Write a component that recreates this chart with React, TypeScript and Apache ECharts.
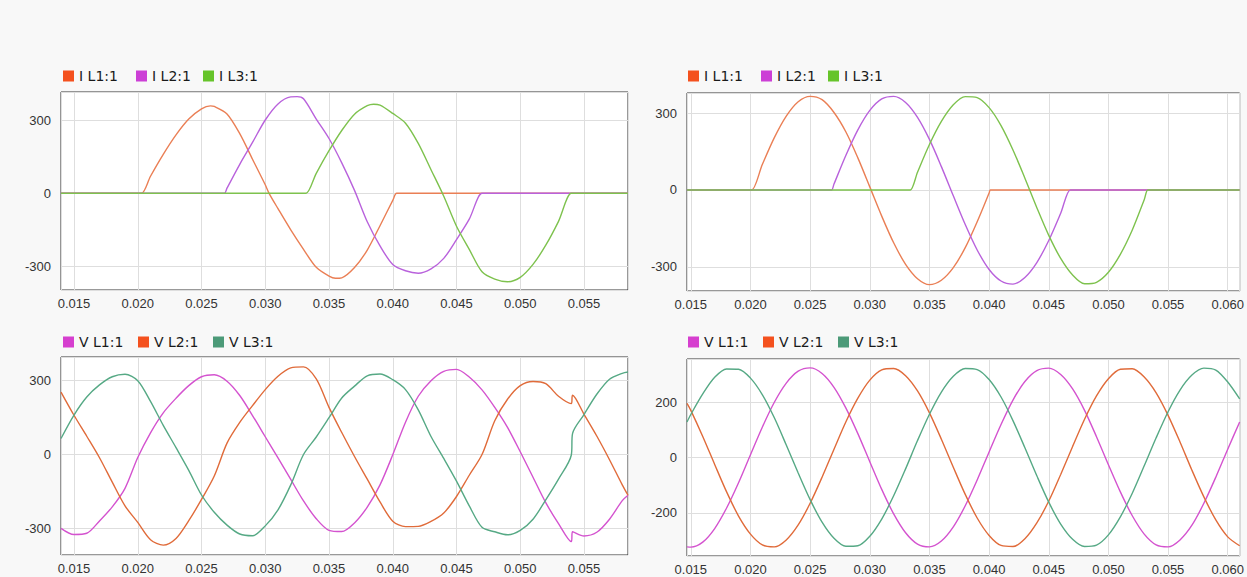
import { useEffect, useRef } from "react";
import * as echarts from "echarts";

// ---------- Top-left panel: currents (time s, current A) ----------
const TL_IL1: [number, number][] = [
  [0.01398, 0], [0.0200, 0], [0.0203, 0], [0.021, 70], [0.022, 160], [0.023, 240], [0.024, 305], [0.025, 347],
  [0.0257, 359], [0.026, 357], [0.027, 326], [0.028, 245], [0.029, 140], [0.030, 35], [0.0303, 0],
  [0.031, -63], [0.032, -150], [0.033, -230], [0.034, -304], [0.035, -340], [0.0355, -349], [0.036, -347],
  [0.037, -305], [0.038, -233], [0.039, -133], [0.040, -29], [0.0403, 0], [0.0406, 0], [0.05845, 0],
];
const TL_IL2: [number, number][] = [
  [0.01398, 0], [0.0265, 0], [0.0268, 0], [0.027, 21], [0.028, 119], [0.029, 209], [0.030, 301], [0.031, 367],
  [0.032, 396], [0.0325, 397], [0.033, 388], [0.034, 305], [0.035, 225], [0.036, 125], [0.037, 12],
  [0.038, -117], [0.039, -216], [0.040, -292], [0.041, -318], [0.042, -328], [0.043, -310], [0.044, -267],
  [0.045, -190], [0.046, -106], [0.0470, 0], [0.0473, 0], [0.05845, 0],
];
const TL_IL3: [number, number][] = [
  [0.01398, 0], [0.0329, 0], [0.0332, 0], [0.034, 82], [0.035, 175], [0.036, 258], [0.037, 325], [0.038, 360],
  [0.0385, 366], [0.039, 362], [0.040, 328], [0.041, 288], [0.042, 205], [0.043, 97], [0.044, -12],
  [0.045, -135], [0.046, -230], [0.047, -322], [0.048, -352], [0.049, -363], [0.050, -345], [0.051, -292],
  [0.052, -213], [0.053, -115], [0.0540, 0], [0.0543, 0], [0.05845, 0],
];

// ---------- Top-right panel: currents ----------
const TR_IL1: [number, number][] = [
  [0.01468, 0], [0.0198, 0], [0.0201, 0], [0.021, 100], [0.022, 204], [0.023, 288], [0.024, 344], [0.025, 365],
  [0.026, 352], [0.027, 302], [0.028, 226], [0.029, 125], [0.030, 12], [0.031, -102], [0.032, -206],
  [0.033, -290], [0.034, -346], [0.035, -369], [0.036, -352], [0.037, -303], [0.038, -225], [0.039, -124],
  [0.040, -12], [0.0401, 0], [0.0404, 0], [0.061, 0],
];
const TR_IL2: [number, number][] = [
  [0.01468, 0], [0.0265, 0], [0.0268, 0], [0.027, 23], [0.028, 135], [0.029, 234], [0.030, 310], [0.031, 355],
  [0.032, 365], [0.033, 341], [0.034, 283], [0.035, 197], [0.036, 91], [0.037, -23], [0.038, -135],
  [0.039, -234], [0.040, -310], [0.041, -355], [0.042, -367], [0.043, -341], [0.044, -283], [0.045, -197],
  [0.046, -91], [0.0468, 0], [0.0471, 0], [0.061, 0],
];
const TR_IL3: [number, number][] = [
  [0.01468, 0], [0.0331, 0], [0.0334, 0], [0.034, 69], [0.035, 177], [0.036, 267], [0.037, 332], [0.038, 364],
  [0.039, 360], [0.040, 321], [0.041, 251], [0.042, 156], [0.043, 46], [0.044, -69], [0.045, -177],
  [0.046, -267], [0.047, -332], [0.048, -366], [0.049, -360], [0.050, -321], [0.051, -251], [0.052, -156],
  [0.053, -38], [0.0533, 0], [0.0536, 0], [0.061, 0],
];

// ---------- Bottom-left panel: voltages ----------
const BL_T = [
  0.01398, 0.015, 0.016, 0.017, 0.018, 0.019, 0.020, 0.021, 0.022, 0.023, 0.024, 0.025, 0.026, 0.027,
  0.028, 0.029, 0.030, 0.031, 0.032, 0.033, 0.034, 0.035, 0.036, 0.037, 0.038, 0.039, 0.040, 0.041,
  0.042, 0.043, 0.044, 0.045, 0.046, 0.047, 0.048, 0.049, 0.050, 0.051, 0.052, 0.053, 0.054, 0.0541,
  0.055, 0.056, 0.057, 0.058, 0.05845,
];
const BL_VL1 = [
  -300, -325, -320, -270, -213, -138, -13, 87, 168, 227, 278, 314, 322, 296, 238, 157, 71, -15, -102,
  -189, -261, -308, -313, -278, -214, -124, -2, 130, 235, 298, 336, 344, 313, 261, 190, 109, 10, -93,
  -196, -281, -354, -314, -331, -316, -263, -188, -166,
];
const BL_VL2 = [
  252, 158, 73, -14, -113, -209, -276, -346, -368, -341, -269, -183, -88, 45, 129, 197, 262, 316, 350,
  354, 305, 190, 88, -9, -101, -193, -271, -293, -292, -272, -238, -171, -85, -1, 136, 223, 278, 295,
  286, 235, 205, 239, 162, 74, -22, -124, -166,
];
const BL_VL3 = [
  64, 159, 232, 281, 314, 324, 298, 214, 117, 27, -65, -165, -235, -287, -323, -330, -290, -225, -124,
  -1, 70, 148, 228, 276, 318, 325, 302, 262, 180, 72, -17, -109, -209, -296, -314, -326, -308, -263,
  -185, -101, -4, 84, 161, 243, 304, 328, 333,
];

// ---------- Bottom-right panel: voltages ----------
const BR_T = [
  0.01468, 0.015, 0.016, 0.017, 0.018, 0.019, 0.020, 0.021, 0.022, 0.023, 0.024, 0.025, 0.026, 0.027,
  0.028, 0.029, 0.030, 0.031, 0.032, 0.033, 0.034, 0.035, 0.036, 0.037, 0.038, 0.039, 0.040, 0.041,
  0.042, 0.043, 0.044, 0.045, 0.046, 0.047, 0.048, 0.049, 0.050, 0.051, 0.052, 0.053, 0.054, 0.055,
  0.056, 0.057, 0.058, 0.059, 0.060, 0.061,
];
const BR_VL1 = [
  -322, -323, -305, -256, -182, -91, 10, 110, 199, 268, 311, 323, 303, 253, 178, 86, -15, -115, -203,
  -271, -312, -322, -301, -250, -174, -81, 20, 119, 207, 274, 313, 322, 299, 247, 170, 75, -26, -124,
  -210, -276, -315, -322, -297, -244, -165, -71, 30, 128,
];
const BR_VL2 = [
  195, 170, 76, -25, -124, -211, -276, -315, -322, -297, -243, -165, -71, 30, 129, 214, 279, 316, 321,
  295, 240, 161, 66, -35, -133, -218, -281, -317, -321, -293, -236, -157, -61, 40, 138, 222, 284, 318,
  320, 290, 233, 152, 56, -46, -142, -225, -286, -318,
];
const BR_VL3 = [
  128, 155, 229, 289, 319, 318, 286, 226, 143, 45, -56, -152, -233, -291, -320, -318, -284, -222, -138,
  -41, 61, 156, 236, 293, 321, 317, 281, 218, 133, 35, -66, -161, -240, -295, -321, -316, -279, -214,
  -129, -30, 71, 165, 243, 297, 322, 315, 272, 211,
];

const CURRENT_NAMES = ["I L1:1", "I L2:1", "I L3:1"];
const VOLTAGE_NAMES = ["V L1:1", "V L2:1", "V L3:1"];

const CUR_LINE = ["#ea7f55", "#b962dc", "#7ec24e"];
const CUR_ICON = ["#f4511e", "#cc3fd6", "#66c42a"];
const VOL_LINE = ["#d453cf", "#e06b3a", "#56a985"];
const VOL_ICON = ["#d63fcf", "#f4511e", "#4c9a78"];

const zip = (t: number[], v: number[]) => t.map((x, i) => [x, v[i]]);

function buildOption() {
  const grids = [
    { left: 61, top: 92, width: 567, height: 198 },
    { left: 687, top: 93, width: 572, height: 198 },
    { left: 61, top: 357, width: 567, height: 198 },
    { left: 687, top: 359, width: 572, height: 197 },
  ].map((g) => ({
    ...g,
    show: true,
    backgroundColor: "#ffffff",
    borderColor: "#333333",
    borderWidth: 1,
  }));

  const xr = [
    [0.01398, 0.05845],
    [0.01468, 0.061],
    [0.01398, 0.05845],
    [0.01468, 0.061],
  ];
  const yr = [
    [-397, 416],
    [-394, 378],
    [-408, 394],
    [-355, 355],
  ];
  const labelFont = { color: "#333", fontSize: 13, fontFamily: "'Liberation Sans', Arial, sans-serif" };
  const xAxis = xr.map((r, i) => ({
    type: "value",
    gridIndex: i,
    min: r[0],
    max: r[1],
    splitNumber: 9,
    axisLine: { show: false },
    axisTick: { show: false },
    splitLine: { show: true, lineStyle: { color: "#dedede", width: 1 } },
    axisLabel: {
      ...labelFont,
      margin: 7,
      showMinLabel: false,
      showMaxLabel: false,
      formatter: (v: number) => v.toFixed(3),
    },
  }));
  const yAxis = yr.map((r, i) => ({
    type: "value",
    gridIndex: i,
    min: r[0],
    max: r[1],
    splitNumber: 3,
    axisLine: { show: false },
    axisTick: { show: false },
    splitLine: { show: true, lineStyle: { color: "#dedede", width: 1 } },
    axisLabel: { ...labelFont, margin: 10, showMinLabel: false, showMaxLabel: false },
  }));

  const mk = (name: string, idx: number, data: any, line: string, icon: string) => ({
    type: "line",
    name,
    xAxisIndex: idx,
    yAxisIndex: idx,
    data,
    smooth: 0.3,
    showSymbol: false,
    symbol: "none",
    lineStyle: { width: 1.4, color: line },
    itemStyle: { color: icon },
    emphasis: { disabled: true },
  });

  const series = [
    mk(CURRENT_NAMES[0], 0, TL_IL1, CUR_LINE[0], CUR_ICON[0]),
    mk(CURRENT_NAMES[1], 0, TL_IL2, CUR_LINE[1], CUR_ICON[1]),
    mk(CURRENT_NAMES[2], 0, TL_IL3, CUR_LINE[2], CUR_ICON[2]),
    mk(CURRENT_NAMES[0], 1, TR_IL1, CUR_LINE[0], CUR_ICON[0]),
    mk(CURRENT_NAMES[1], 1, TR_IL2, CUR_LINE[1], CUR_ICON[1]),
    mk(CURRENT_NAMES[2], 1, TR_IL3, CUR_LINE[2], CUR_ICON[2]),
    mk(VOLTAGE_NAMES[0], 2, zip(BL_T, BL_VL1), VOL_LINE[0], VOL_ICON[0]),
    mk(VOLTAGE_NAMES[1], 2, zip(BL_T, BL_VL2), VOL_LINE[1], VOL_ICON[1]),
    mk(VOLTAGE_NAMES[2], 2, zip(BL_T, BL_VL3), VOL_LINE[2], VOL_ICON[2]),
    mk(VOLTAGE_NAMES[0], 3, zip(BR_T, BR_VL1), VOL_LINE[0], VOL_ICON[0]),
    mk(VOLTAGE_NAMES[1], 3, zip(BR_T, BR_VL2), VOL_LINE[1], VOL_ICON[1]),
    mk(VOLTAGE_NAMES[2], 3, zip(BR_T, BR_VL3), VOL_LINE[2], VOL_ICON[2]),
  ];

  const lg = (name: string, color: string, left: number, top: number) => ({
    data: [name],
    left,
    top,
    icon: "rect",
    itemWidth: 11,
    itemHeight: 11,
    itemGap: 0,
    padding: 0,
    selectedMode: false,
    itemStyle: { color, borderWidth: 0 },
    textStyle: { fontSize: 14, color: "#1a1a1a", fontFamily: "'DejaVu Sans', sans-serif" },
  });

  const legend = [
    lg(CURRENT_NAMES[0], CUR_ICON[0], 63, 69),
    lg(CURRENT_NAMES[1], CUR_ICON[1], 136, 69),
    lg(CURRENT_NAMES[2], CUR_ICON[2], 203, 69),
    lg(CURRENT_NAMES[0], CUR_ICON[0], 688, 69),
    lg(CURRENT_NAMES[1], CUR_ICON[1], 761, 69),
    lg(CURRENT_NAMES[2], CUR_ICON[2], 828, 69),
    lg(VOLTAGE_NAMES[0], VOL_ICON[0], 63, 335),
    lg(VOLTAGE_NAMES[1], VOL_ICON[1], 138, 335),
    lg(VOLTAGE_NAMES[2], VOL_ICON[2], 213, 335),
    lg(VOLTAGE_NAMES[0], VOL_ICON[0], 688, 335),
    lg(VOLTAGE_NAMES[1], VOL_ICON[1], 763, 335),
    lg(VOLTAGE_NAMES[2], VOL_ICON[2], 838, 335),
  ];

  return {
    animation: false,
    backgroundColor: "#f8f8f8",
    grid: grids,
    xAxis,
    yAxis,
    legend,
    series,
  };
}

export default function App() {
  const ref = useRef<HTMLDivElement>(null);
  useEffect(() => {
    if (!ref.current) return;
    const chart = echarts.init(ref.current, undefined, { renderer: "svg" });
    chart.setOption(buildOption() as any);
    return () => chart.dispose();
  }, []);
  return (
    <div
      ref={ref}
      style={{ position: "fixed", left: 0, top: 0, width: 1247, height: 577, overflow: "hidden" }}
    />
  );
}
